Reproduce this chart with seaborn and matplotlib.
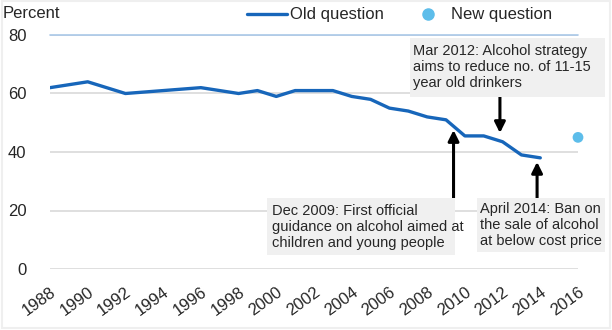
import matplotlib
matplotlib.use("Agg")
import matplotlib.pyplot as plt
import seaborn as sns
import pandas as pd
from matplotlib.patches import Rectangle
from matplotlib.lines import Line2D

# ---- data ----
years_old = [1988, 1990, 1992, 1994, 1996, 1998, 1999, 2000, 2001, 2002, 2003,
             2004, 2005, 2006, 2007, 2008, 2009, 2010, 2011, 2012, 2013, 2014]
pct_old = [62, 64, 60, 61, 62, 60, 61, 59, 61, 61, 61,
           59, 58, 55, 54, 52, 51, 45.5, 45.5, 43.5, 39, 38]
years_new = [2016]
pct_new = [45]
x_ticks = list(range(1988, 2017, 2))
y_ticks = [0, 20, 40, 60, 80]
ann_dec = "Dec 2009: First official\nguidance on alcohol aimed at\nchildren and young people"
ann_mar = "Mar 2012: Alcohol strategy\naims to reduce no. of 11-15\nyear old drinkers"
ann_apr = "April 2014: Ban on\nthe sale of alcohol\nat below cost price"

sns.set_style("white")
plt.rcParams["font.family"] = ["Liberation Sans", "DejaVu Sans"]

W, H = 612, 330
fig = plt.figure(figsize=(W / 100, H / 100), dpi=100)
fig.patch.set_facecolor("white")


def fx(x):
    return x / W


def fy(y):
    return 1 - y / H


ax = fig.add_axes([fx(50), fy(269), (578 - 50) / W, (269 - 35) / H])

df_old = pd.DataFrame({"year": years_old, "pct": pct_old})
df_new = pd.DataFrame({"year": years_new, "pct": pct_new})

line_col = "#1766BA"
dot_col = "#5DBDEA"

sns.lineplot(data=df_old, x="year", y="pct", ax=ax, color=line_col, linewidth=2.4,
             zorder=3, legend=False)
sns.scatterplot(data=df_new, x="year", y="pct", ax=ax, color=dot_col, s=60,
                edgecolor="none", zorder=3, legend=False, clip_on=False)
for c in ax.collections:
    c.set_clip_on(False)

ax.set_xlim(1988, 2016)
ax.set_ylim(0, 80)
ax.set_xticks(x_ticks)
ax.set_yticks(y_ticks)
ax.set_xticklabels([str(t) for t in x_ticks], rotation=36, ha="right",
                   rotation_mode="anchor", fontsize=12)
ax.set_yticklabels([str(t) for t in y_ticks], fontsize=12)
ax.tick_params(axis="x", length=0, pad=11)
ax.tick_params(axis="y", length=0, pad=17)
ax.set_xlabel("")
ax.set_ylabel("")
for s in ax.spines.values():
    s.set_visible(False)
ax.yaxis.grid(True, color="#d9d9d9", linewidth=1.2)
ax.xaxis.grid(False)
ax.set_axisbelow(True)
ax.axhline(80, color="#a9c8e8", linewidth=1.2, zorder=1, clip_on=False)

fig.text(fx(3), fy(14), "Percent", fontsize=12, ha="left", va="center")

# legend
handles = [Line2D([], [], color=line_col, linewidth=2.4),
           Line2D([], [], color=dot_col, marker="o", linestyle="none", markersize=8)]
fig.legend(handles, ["Old question", "New question"], loc="center left",
           bbox_to_anchor=(fx(247), fy(15)), ncol=2, frameon=False, fontsize=12,
           handlelength=2.4, handletextpad=0.15, columnspacing=1.5,
           borderpad=0, borderaxespad=0)

# annotation boxes
box_col = "#f0f0f0"
boxes = [
    (267, 198, 455, 255, ann_dec, 272, 204),
    (410, 38, 605, 97, ann_mar, 413, 44),
    (477, 198, 605, 252, ann_apr, 480, 202),
]
for x0, y0, x1, y1, txt, tx, ty in boxes:
    fig.add_artist(Rectangle((fx(x0), fy(y1)), (x1 - x0) / W, (y1 - y0) / H,
                             transform=fig.transFigure, facecolor=box_col,
                             edgecolor="none", zorder=2))
    fig.text(fx(tx), fy(ty), txt, fontsize=10.5, ha="left", va="top",
             linespacing=1.18, zorder=3)

# arrows (data coordinates)
arrows = [
    (2009.4, 24.3, 47.5),
    (2011.86, 58.8, 46.5),
    (2013.83, 24.3, 36.6),
]
for xa, y_from, y_to in arrows:
    ax.annotate("", xy=(xa, y_to), xytext=(xa, y_from),
                arrowprops=dict(arrowstyle="-|>", color="black", lw=2.2,
                                mutation_scale=16, shrinkA=0, shrinkB=0),
                annotation_clip=False, zorder=4)

# faint outer frame like the reference screenshot
fig.add_artist(Rectangle((0.003, 0.006), 0.994, 0.99, transform=fig.transFigure,
                         facecolor="none", edgecolor="#efefef", linewidth=1.5,
                         zorder=0))

fig.savefig("out.png", dpi=100)
